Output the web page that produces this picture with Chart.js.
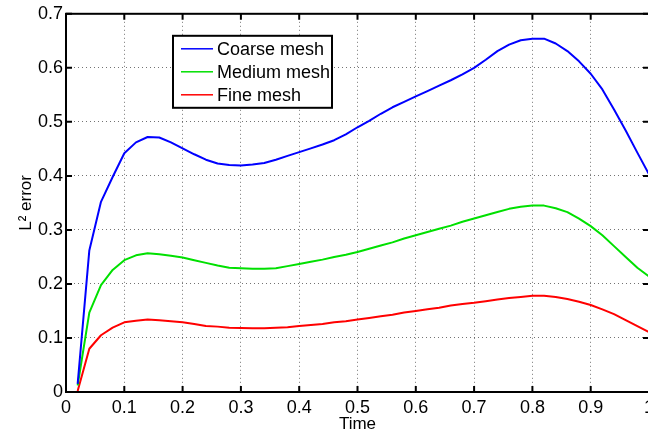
<!DOCTYPE html>
<html>
<head>
<meta charset="utf-8">
<script src="https://cdn.jsdelivr.net/npm/chart.js"></script>
<style>
	body { margin: 0; overflow: hidden; background: #fff; }
</style>
</head>
<body>
	<canvas id="chart" width="700" height="436"></canvas>
	<script>
		// sample times and L2 error for the three meshes
		const time = [0.02, 0.04, 0.06, 0.08, 0.10, 0.12, 0.14, 0.16, 0.18, 0.20,
			0.22, 0.24, 0.26, 0.28, 0.30, 0.32, 0.34, 0.36, 0.38, 0.40,
			0.42, 0.44, 0.46, 0.48, 0.50, 0.52, 0.54, 0.56, 0.58, 0.60,
			0.62, 0.64, 0.66, 0.68, 0.70, 0.72, 0.74, 0.76, 0.78, 0.80,
			0.82, 0.84, 0.86, 0.88, 0.90, 0.92, 0.94, 0.96, 0.98, 1.00];
		const coarse = [0.015, 0.262, 0.352, 0.398, 0.442, 0.462, 0.472, 0.471, 0.462, 0.451,
			0.440, 0.430, 0.423, 0.420, 0.419, 0.421, 0.424, 0.430, 0.437, 0.444,
			0.451, 0.458, 0.466, 0.477, 0.490, 0.502, 0.515, 0.527, 0.537, 0.547,
			0.557, 0.567, 0.577, 0.588, 0.600, 0.615, 0.631, 0.643, 0.651, 0.654,
			0.654, 0.645, 0.631, 0.612, 0.589, 0.560, 0.523, 0.484, 0.443, 0.403];
		const medium = [0.012, 0.147, 0.198, 0.226, 0.244, 0.253, 0.257, 0.255, 0.252, 0.249,
			0.244, 0.239, 0.234, 0.230, 0.229, 0.228, 0.228, 0.229, 0.233, 0.237,
			0.241, 0.245, 0.250, 0.254, 0.259, 0.265, 0.271, 0.277, 0.284, 0.290,
			0.296, 0.302, 0.308, 0.315, 0.321, 0.327, 0.333, 0.339, 0.343, 0.345,
			0.345, 0.340, 0.333, 0.321, 0.307, 0.290, 0.270, 0.250, 0.230, 0.214];
		const fine = [0.002, 0.080, 0.105, 0.119, 0.129, 0.132, 0.134, 0.133, 0.131, 0.129,
			0.126, 0.122, 0.121, 0.119, 0.1185, 0.118, 0.118, 0.119, 0.120, 0.122,
			0.124, 0.126, 0.129, 0.131, 0.134, 0.137, 0.140, 0.143, 0.147, 0.150,
			0.153, 0.156, 0.160, 0.163, 0.165, 0.168, 0.171, 0.174, 0.176, 0.178,
			0.178, 0.176, 0.172, 0.167, 0.161, 0.153, 0.144, 0.133, 0.122, 0.111];
		const seriesNames = ['Coarse mesh', 'Medium mesh', 'Fine mesh'];
		const seriesColors = ['#0000ff', '#00e000', '#ff0000'];
		const xTicks = [0, 0.1, 0.2, 0.3, 0.4, 0.5, 0.6, 0.7, 0.8, 0.9, 1];
		const yTicks = [0, 0.1, 0.2, 0.3, 0.4, 0.5, 0.6, 0.7];

		const FONT = "'Liberation Sans', Arial, Helvetica, sans-serif";

		function pts(ys) {
			return time.map((t, i) => ({ x: t, y: ys[i] }));
		}

		const datasets = [coarse, medium, fine].map((ys, i) => ({
			label: seriesNames[i],
			data: pts(ys),
			borderColor: seriesColors[i],
			borderWidth: 2,
			pointRadius: 0,
			tension: 0,
			borderJoinStyle: 'round'
		}));

		// matlab style box with inward ticks, plus the legend box
		const frame = {
			id: 'frame',
			afterDatasetsDraw(chart) {
				const ctx = chart.ctx;
				const a = chart.chartArea;
				const xs = chart.scales.x, ys = chart.scales.y;
				const tl = 6;
				ctx.save();
				ctx.strokeStyle = '#000';
				ctx.lineWidth = 2;
				ctx.beginPath();
				xTicks.forEach(v => {
					const px = xs.getPixelForValue(v);
					ctx.moveTo(px, a.bottom); ctx.lineTo(px, a.bottom - tl);
					ctx.moveTo(px, a.top); ctx.lineTo(px, a.top + tl);
				});
				yTicks.forEach(v => {
					const py = ys.getPixelForValue(v);
					ctx.moveTo(a.left, py); ctx.lineTo(a.left + tl, py);
					ctx.moveTo(a.right, py); ctx.lineTo(a.right - tl, py);
				});
				ctx.stroke();
				ctx.strokeRect(a.left, a.top, a.right - a.left, a.bottom - a.top);

				// legend
				const lx = a.left + 107, ly = a.top + 22, lw = 159, lh = 72;
				ctx.fillStyle = '#fff';
				ctx.fillRect(lx, ly, lw, lh);
				ctx.strokeRect(lx, ly, lw, lh);
				ctx.font = '18px ' + FONT;
				ctx.textBaseline = 'middle';
				ctx.textAlign = 'left';
				chart.data.datasets.forEach((ds, i) => {
					const ry = ly + 13 + i * 23;
					ctx.strokeStyle = ds.borderColor;
					ctx.lineWidth = 1.5;
					ctx.beginPath();
					ctx.moveTo(lx + 8, ry);
					ctx.lineTo(lx + 40, ry);
					ctx.stroke();
					ctx.fillStyle = '#000';
					ctx.fillText(ds.label, lx + 44, ry + 1);
				});
				ctx.restore();
			}
		};

		function fmt(v) {
			return String(Number(v.toFixed(1)));
		}

		new Chart(document.getElementById('chart'), {
			type: 'line',
			data: { datasets: datasets },
			plugins: [frame],
			options: {
				responsive: false,
				animation: false,
				layout: { padding: { top: 11, right: 51, bottom: 0, left: 0 } },
				plugins: { legend: { display: false }, tooltip: { enabled: false } },
				scales: {
					x: {
						type: 'linear',
						min: 0, max: 1,
						afterFit(s) { s.height = 44; },
						ticks: {
							stepSize: 0.1,
							padding: 5,
							maxRotation: 0,
							color: '#000',
							font: { family: FONT, size: 18 },
							callback: fmt
						},
						grid: { color: 'rgba(0,0,0,0.55)', lineWidth: 1, drawTicks: false },
						border: { display: false, dash: [1, 3] },
						title: {
							display: true, text: 'Time', color: '#000',
							font: { family: FONT, size: 17 },
							padding: { top: 0, bottom: 1 }
						}
					},
					y: {
						min: 0, max: 0.7,
						afterFit(s) { s.width = 66; },
						ticks: {
							stepSize: 0.1,
							padding: 3,
							color: '#000',
							font: { family: FONT, size: 18 },
							callback: fmt
						},
						grid: { color: 'rgba(0,0,0,0.55)', lineWidth: 1, drawTicks: false },
						border: { display: false, dash: [1, 3] },
						title: {
							display: true, text: 'L² error', color: '#000',
							font: { family: FONT, size: 17 },
							padding: { top: 16, bottom: 0 }
						}
					}
				}
			}
		});
	</script>
</body>
</html>
